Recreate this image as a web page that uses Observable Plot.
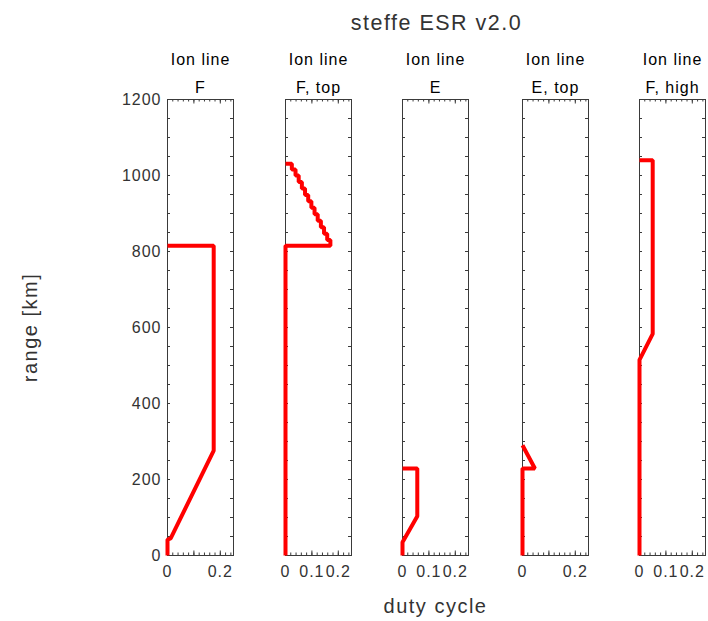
<!DOCTYPE html>
<html>
<head>
<meta charset="utf-8">
<script src="https://cdn.jsdelivr.net/npm/d3@7"></script>
<script src="https://cdn.jsdelivr.net/npm/@observablehq/plot@0.6"></script>
<style>
  body { margin: 0; background: #fff; }
  #chart { position: relative; width: 708px; height: 621px; overflow: hidden; background: #fff; }
  #chart > svg, #chart > div { position: absolute; }
</style>
</head>
<body>
<div id="chart"></div>
<script>
// ---- data ----
const chartTitle = "steffe ESR v2.0";
const yLabel = "range [km]";
const xLabel = "duty cycle";
const panelTop = "Ion line";
const panelNames = ["F", "F, top", "E", "E, top", "F, high"];

const dutyF = [0, 0, 0.012, 0.175, 0.175, 0];
const rangeF = [0, 42, 45, 276, 815, 815];

const dutyFtop = [0, 0, 0.17, 0.17, 0.158, 0.158, 0.146, 0.146, 0.134, 0.134, 0.122, 0.122, 0.11, 0.11,
  0.098, 0.098, 0.086, 0.086, 0.074, 0.074, 0.062, 0.062, 0.05, 0.05, 0.038, 0.038, 0.024, 0.024, 0];
const rangeFtop = [0, 815, 815, 830, 830, 847, 847, 864, 864, 881, 881, 898, 898, 915,
  915, 932, 932, 949, 949, 966, 966, 983, 983, 1000, 1000, 1016, 1016, 1031, 1031];

const dutyE = [0, 0, 0.056, 0.056, 0];
const rangeE = [0, 35, 103, 229, 229];

const dutyEtop = [0, 0, 0.047, 0];
const rangeEtop = [0, 229, 229, 290];

const dutyFhigh = [0, 0, 0.05, 0.05, 0];
const rangeFhigh = [0, 515, 583, 1040, 1040];

const duties = [dutyF, dutyFtop, dutyE, dutyEtop, dutyFhigh];
const ranges = [rangeF, rangeFtop, rangeE, rangeEtop, rangeFhigh];

const xTickLabels = [[0, 0.2], [0, 0.1, 0.2], [0, 0.1, 0.2], [0, 0.2], [0, 0.1, 0.2]];
const xMajorTicks = [0, 0.1, 0.2];
const xMinorTicks = [0, 0.02, 0.04, 0.06, 0.08, 0.1, 0.12, 0.14, 0.16, 0.18, 0.2, 0.22, 0.24];
const yTickLabels = [0, 200, 400, 600, 800, 1000, 1200];
const yMinorTicks = [0, 50, 100, 150, 200, 250, 300, 350, 400, 450, 500, 550, 600, 650, 700, 750,
  800, 850, 900, 950, 1000, 1050, 1100, 1150, 1200];

// ---- layout ----
const FW = 66, FH = 456, FTOP = 99;
const frameLefts = [167, 285, 402, 522, 639];
const font = "'Liberation Sans', Arial, Helvetica, sans-serif";
const axisColor = "#3a3a3a";
const chart = document.getElementById("chart");

// global labels
const overlay = Plot.plot({
  width: 708, height: 621, margin: 0,
  style: {background: "white", fontFamily: font, color: "#333", letterSpacing: "1.5px"},
  marks: [
    Plot.text([chartTitle], {frameAnchor: "top-left", dx: 436, dy: 29, lineAnchor: "bottom", textAnchor: "middle", fontSize: 21.5, fill: "#333"}),
    Plot.text([xLabel], {frameAnchor: "top-left", dx: 435, dy: 612, lineAnchor: "bottom", textAnchor: "middle", fontSize: 20, fill: "#333"}),
    Plot.text([yLabel], {frameAnchor: "top-left", dx: 30, dy: 327, lineAnchor: "middle", textAnchor: "middle", fontSize: 20, rotate: -90, fill: "#333"})
  ]
});
overlay.style.left = "0px"; overlay.style.top = "0px";
chart.appendChild(overlay);

const fmtX = d => d === 0 ? "0" : d.toFixed(1);
const fmtY = d => String(d);

panelNames.forEach((name, i) => {
  const ml = i === 0 ? 80 : 20, mr = 4, mt = 60, mb = 40;
  const data = duties[i].map((d, j) => ({duty: d, range: ranges[i][j]}));
  const marks = [
    Plot.text([panelTop], {frameAnchor: "top", lineAnchor: "bottom", dy: -35, fontSize: 16, fill: "#000"}),
    Plot.text([name], {frameAnchor: "top", lineAnchor: "bottom", dy: -7, fontSize: 16, fill: "#000"}),
    Plot.tickX(xMinorTicks, {x: d => d, insetBottom: FH - 2.5, stroke: axisColor}),
    Plot.tickX(xMinorTicks, {x: d => d, insetTop: FH - 2.5, stroke: axisColor}),
    Plot.tickX(xMajorTicks, {x: d => d, insetBottom: FH - 4.5, stroke: axisColor}),
    Plot.tickX(xMajorTicks, {x: d => d, insetTop: FH - 4.5, stroke: axisColor}),
    Plot.tickY(yMinorTicks, {y: d => d, insetRight: FW - 3, stroke: axisColor}),
    Plot.tickY(yMinorTicks, {y: d => d, insetLeft: FW - 3, stroke: axisColor}),
    Plot.frame({stroke: axisColor}),
    Plot.axisX({ticks: xTickLabels[i], tickSize: 0, tickPadding: 10, tickFormat: fmtX, label: null, fontSize: 16, fill: "#333"}),
    Plot.line(data, {x: "duty", y: "range", stroke: "#ff0000", strokeWidth: 4, strokeLinejoin: "miter", strokeLinecap: "butt"})
  ];
  if (i === 0) {
    marks.push(Plot.axisY({ticks: yTickLabels, tickSize: 0, tickPadding: 6, tickFormat: fmtY, label: null, fontSize: 16, fill: "#333"}));
  }
  const p = Plot.plot({
    width: ml + FW + mr, height: mt + FH + mb,
    marginLeft: ml, marginRight: mr, marginTop: mt, marginBottom: mb,
    style: {background: "transparent", fontFamily: font, fontSize: "16px", color: "#333", letterSpacing: "1px", overflow: "visible"},
    x: {domain: [0, 0.25], axis: null},
    y: {domain: [0, 1200], axis: null},
    marks
  });
  p.style.left = (frameLefts[i] - ml) + "px";
  p.style.top = (FTOP - mt) + "px";
  chart.appendChild(p);
});
</script>
</body>
</html>
